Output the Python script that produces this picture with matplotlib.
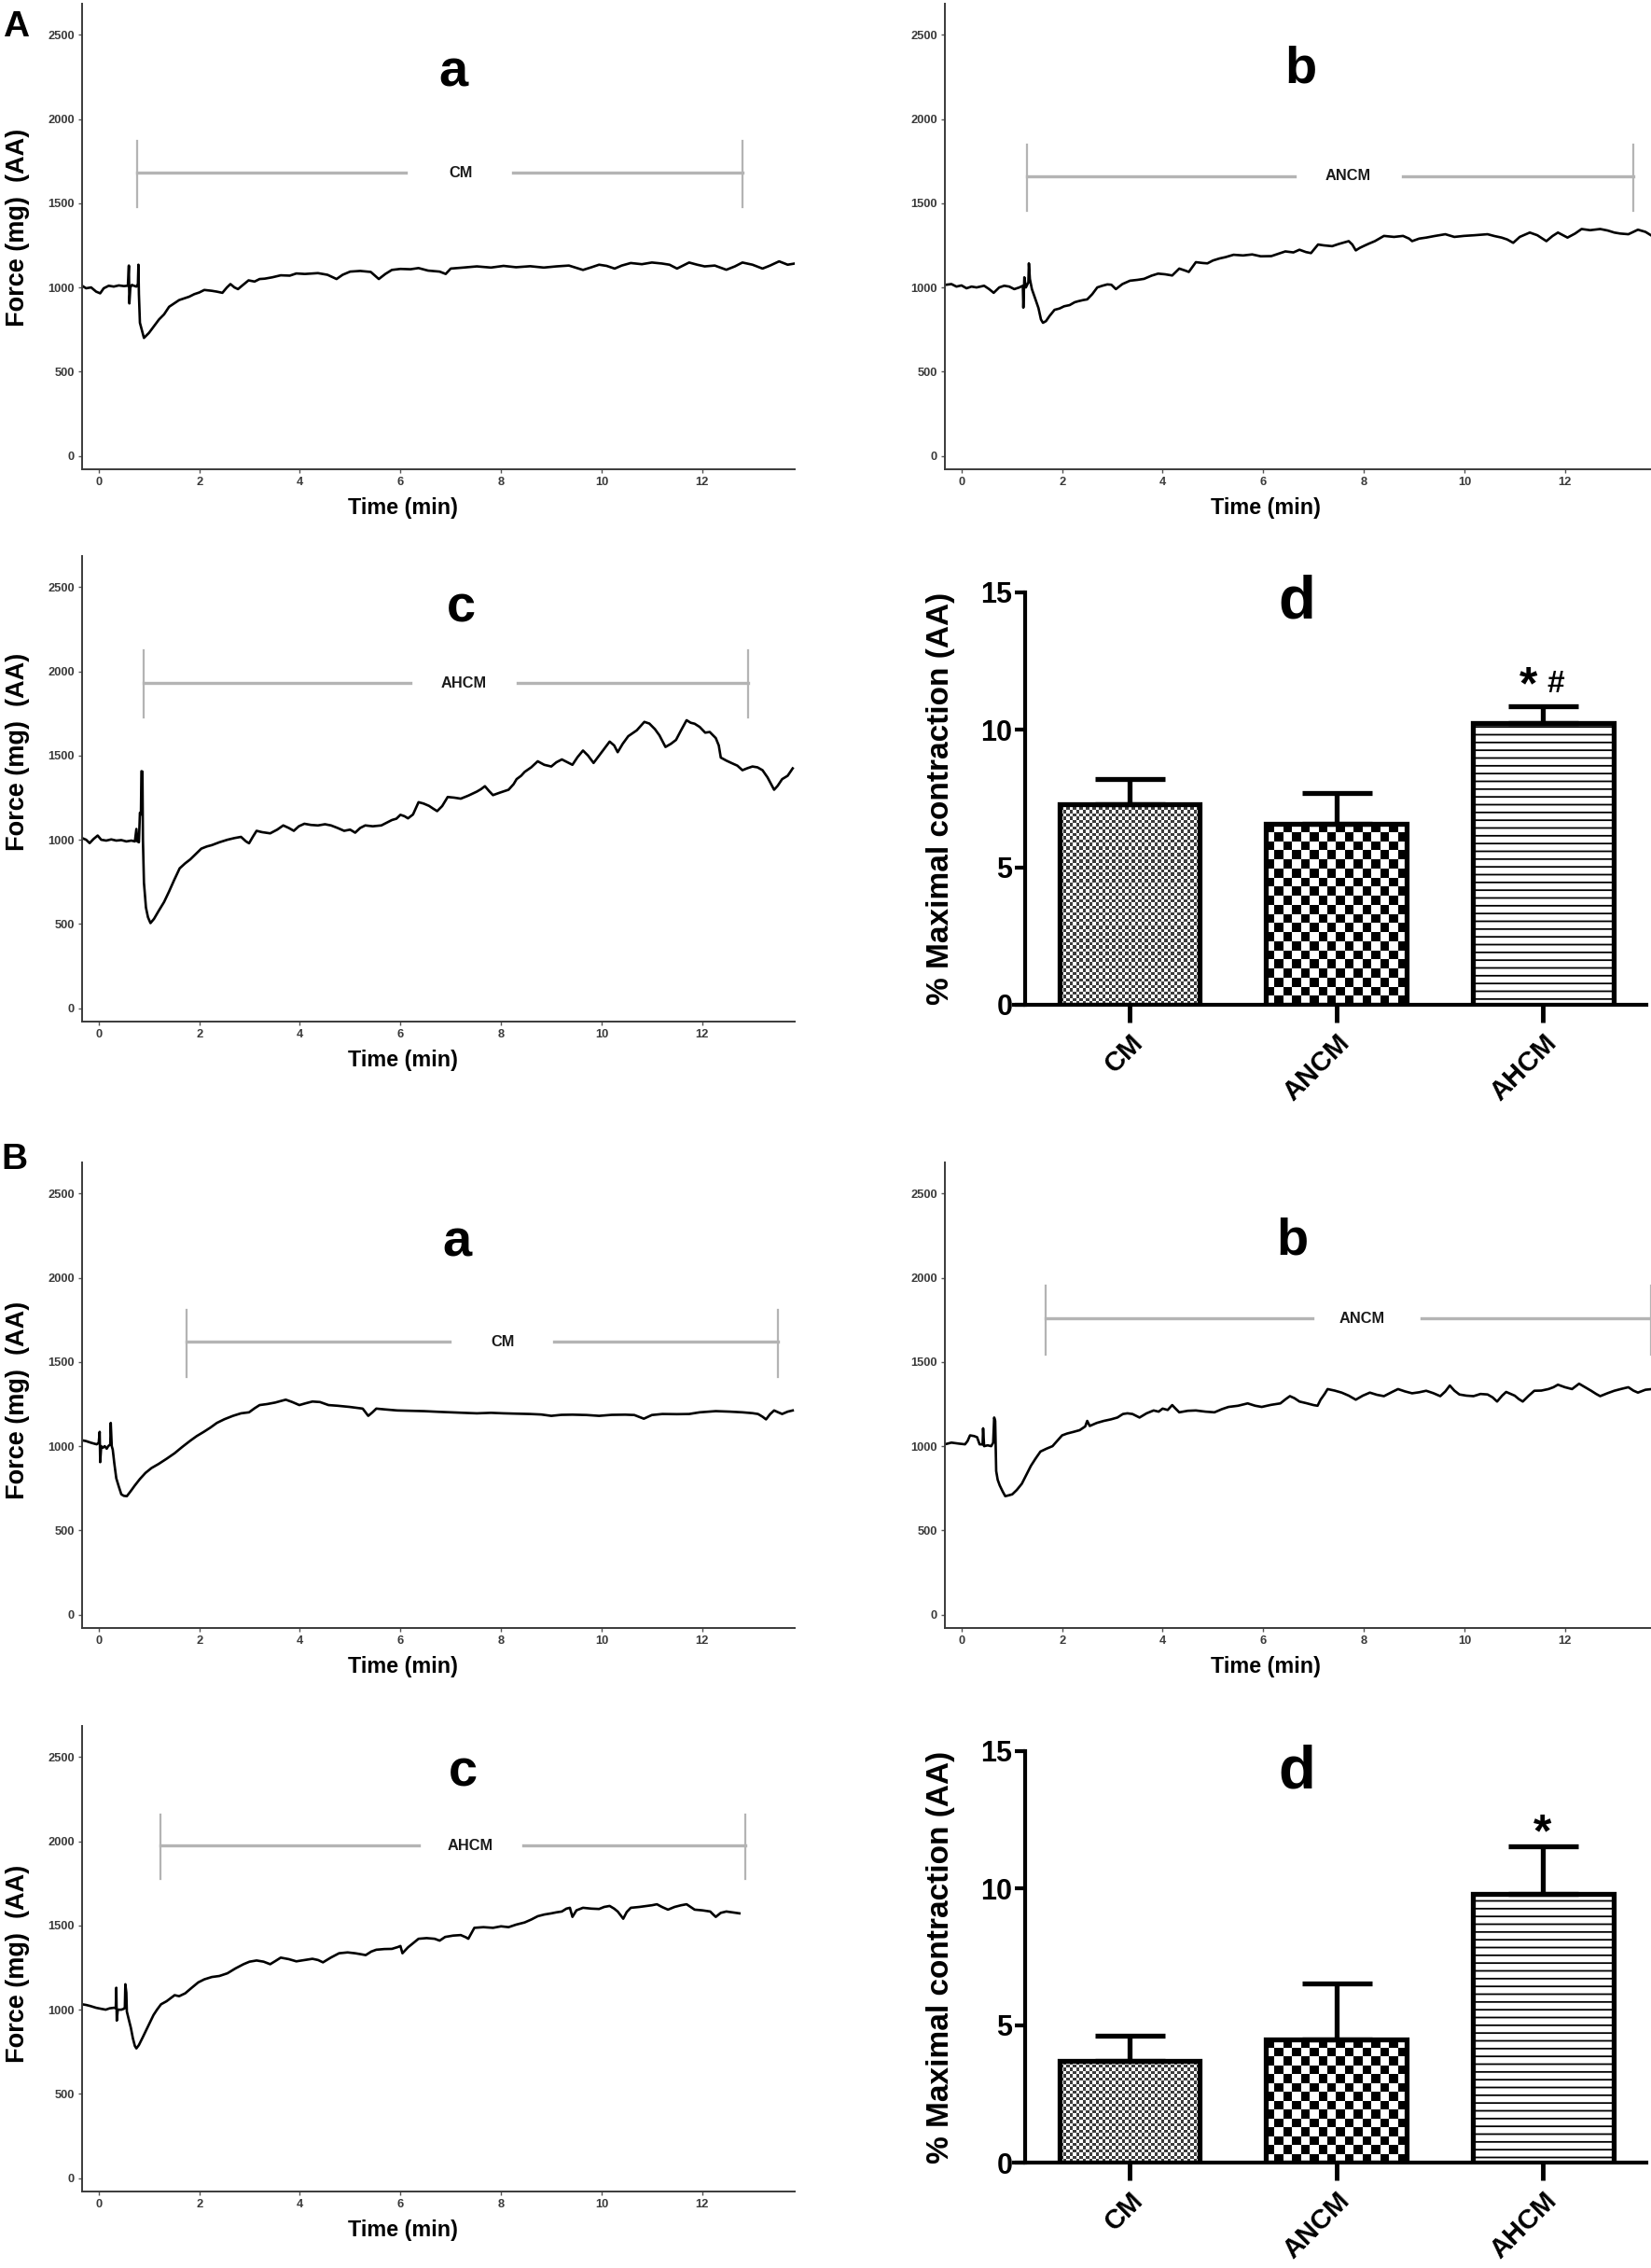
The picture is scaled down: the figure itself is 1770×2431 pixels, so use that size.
import numpy as np
import matplotlib
matplotlib.use("Agg")
import matplotlib.pyplot as plt
from matplotlib import font_manager
from matplotlib.colors import ListedColormap

# ---- values ----
time_ticks = [0, 2, 4, 6, 8, 10, 12]
force_ticks = [0, 500, 1000, 1500, 2000, 2500]

# (time min, force mg) for each isometric trace
aa_pts = [(-0.33, 1010), (-0.25, 995), (-0.15, 1000), (-0.05, 975), (0.03, 965), (0.1, 995),
          (0.2, 1010), (0.3, 1005), (0.4, 1012), (0.5, 1008), (0.58, 1010), (0.6, 1130),
          (0.61, 905), (0.63, 1000), (0.66, 1015), (0.7, 1010), (0.75, 1005), (0.78, 1020),
          (0.79, 1135), (0.8, 960), (0.82, 790), (0.86, 745), (0.9, 700), (0.95, 715),
          (1.0, 730), (1.1, 770), (1.2, 810), (1.3, 840), (1.4, 885), (1.5, 905), (1.6, 925),
          (1.7, 935), (1.8, 945), (1.9, 960), (2.0, 970), (2.1, 985), (2.25, 980), (2.35, 975),
          (2.46, 968), (2.55, 1000), (2.62, 1020), (2.7, 1000), (2.77, 990), (2.85, 1010),
          (2.98, 1042), (3.1, 1035), (3.2, 1050), (3.3, 1052), (3.45, 1060), (3.62, 1072),
          (3.8, 1070), (3.93, 1083), (4.1, 1080), (4.36, 1085), (4.55, 1075), (4.73, 1050),
          (4.85, 1075), (5.0, 1094), (5.2, 1098), (5.41, 1092), (5.57, 1050), (5.7, 1080),
          (5.83, 1104), (6.0, 1110), (6.2, 1108), (6.36, 1115), (6.55, 1100), (6.78, 1094),
          (6.9, 1080), (7.0, 1112), (7.25, 1118), (7.52, 1125), (7.8, 1118), (8.05, 1128),
          (8.3, 1120), (8.58, 1126), (8.85, 1118), (9.1, 1125), (9.35, 1130), (9.63, 1104),
          (9.8, 1120), (9.95, 1135), (10.1, 1128), (10.26, 1112), (10.4, 1130), (10.58, 1145),
          (10.8, 1138), (11.0, 1148), (11.2, 1142), (11.35, 1135), (11.5, 1112), (11.62, 1130),
          (11.74, 1148), (11.9, 1135), (12.05, 1125), (12.25, 1130), (12.48, 1105), (12.65, 1125),
          (12.8, 1148), (13.0, 1135), (13.2, 1112), (13.35, 1130), (13.53, 1155), (13.7, 1135),
          (13.84, 1142)]

ab_pts = [(-0.33, 1015), (-0.2, 1020), (-0.1, 1005), (0.0, 1012), (0.1, 995), (0.2, 1005),
          (0.3, 1000), (0.45, 1010), (0.55, 990), (0.64, 968), (0.75, 1000), (0.85, 1010),
          (0.95, 1005), (1.05, 990), (1.15, 1000), (1.22, 1010), (1.23, 880), (1.25, 1060),
          (1.28, 1000), (1.33, 1030), (1.34, 1143), (1.36, 1050), (1.4, 990), (1.47, 930),
          (1.53, 878), (1.58, 810), (1.62, 790), (1.68, 800), (1.75, 830), (1.85, 867),
          (1.95, 875), (2.04, 888), (2.15, 895), (2.25, 912), (2.32, 918), (2.42, 925),
          (2.5, 929), (2.6, 960), (2.7, 1000), (2.8, 1010), (2.9, 1018), (2.98, 1016),
          (3.07, 990), (3.2, 1020), (3.35, 1040), (3.5, 1045), (3.63, 1051), (3.78, 1070),
          (3.91, 1082), (4.05, 1078), (4.19, 1071), (4.33, 1112), (4.45, 1100), (4.52, 1092),
          (4.66, 1150), (4.8, 1145), (4.89, 1143), (5.0, 1160), (5.13, 1172), (5.25, 1180),
          (5.41, 1194), (5.6, 1190), (5.78, 1196), (5.95, 1185), (6.16, 1186), (6.3, 1200),
          (6.44, 1214), (6.6, 1208), (6.72, 1224), (6.85, 1210), (6.95, 1204), (7.09, 1255),
          (7.2, 1250), (7.37, 1245), (7.5, 1258), (7.7, 1275), (7.77, 1255), (7.84, 1220),
          (7.92, 1235), (7.99, 1245), (8.1, 1260), (8.22, 1275), (8.4, 1306), (8.6, 1300),
          (8.78, 1306), (8.9, 1290), (8.96, 1275), (9.1, 1290), (9.24, 1296), (9.4, 1305),
          (9.62, 1316), (9.8, 1300), (9.99, 1306), (10.2, 1310), (10.46, 1316), (10.6, 1305),
          (10.74, 1296), (10.85, 1285), (10.97, 1265), (11.1, 1300), (11.3, 1326), (11.45, 1310),
          (11.63, 1275), (11.75, 1305), (11.86, 1326), (12.05, 1296), (12.2, 1320), (12.33, 1347),
          (12.5, 1340), (12.7, 1347), (12.85, 1338), (12.98, 1326), (13.1, 1320), (13.26, 1316),
          (13.36, 1330), (13.45, 1343), (13.6, 1330), (13.73, 1306), (13.84, 1300)]

ac_pts = [(-0.33, 1010), (-0.25, 1000), (-0.18, 980), (-0.1, 1005), (-0.02, 1025), (0.05, 1000),
          (0.15, 995), (0.25, 1002), (0.35, 995), (0.45, 998), (0.55, 990), (0.65, 995),
          (0.72, 990), (0.75, 1064), (0.77, 990), (0.8, 985), (0.82, 1160), (0.84, 1150),
          (0.85, 1407), (0.87, 1405), (0.88, 1000), (0.9, 745), (0.94, 597), (0.98, 540),
          (1.03, 505), (1.1, 530), (1.19, 576), (1.3, 630), (1.4, 693), (1.5, 760), (1.61, 830),
          (1.72, 860), (1.82, 883), (1.93, 915), (2.04, 947), (2.15, 960), (2.25, 968),
          (2.4, 985), (2.56, 1000), (2.7, 1010), (2.83, 1017), (2.93, 990), (2.99, 979),
          (3.07, 1020), (3.14, 1053), (3.25, 1045), (3.41, 1038), (3.55, 1060), (3.67, 1085),
          (3.78, 1070), (3.88, 1053), (3.98, 1080), (4.09, 1095), (4.22, 1088), (4.36, 1085),
          (4.5, 1092), (4.62, 1085), (4.75, 1070), (4.88, 1053), (5.0, 1060), (5.1, 1042),
          (5.2, 1070), (5.3, 1085), (5.45, 1080), (5.62, 1085), (5.72, 1100), (5.83, 1117),
          (5.92, 1125), (6.0, 1148), (6.08, 1140), (6.15, 1127), (6.25, 1150), (6.36, 1223),
          (6.46, 1215), (6.57, 1201), (6.65, 1185), (6.73, 1170), (6.83, 1200), (6.94, 1254),
          (7.07, 1250), (7.2, 1244), (7.35, 1262), (7.52, 1286), (7.6, 1300), (7.68, 1318),
          (7.76, 1290), (7.84, 1265), (7.98, 1280), (8.15, 1297), (8.25, 1330), (8.31, 1360),
          (8.4, 1380), (8.47, 1403), (8.6, 1430), (8.73, 1466), (8.86, 1445), (9.0, 1435),
          (9.1, 1460), (9.21, 1477), (9.32, 1460), (9.42, 1445), (9.52, 1490), (9.63, 1530),
          (9.73, 1500), (9.84, 1456), (10.0, 1520), (10.16, 1583), (10.25, 1560), (10.32, 1520),
          (10.42, 1570), (10.53, 1615), (10.7, 1650), (10.85, 1700), (10.95, 1690), (11.06, 1657),
          (11.15, 1620), (11.27, 1551), (11.38, 1570), (11.48, 1593), (11.58, 1650), (11.69, 1710),
          (11.77, 1695), (11.85, 1689), (11.95, 1670), (12.06, 1636), (12.15, 1640), (12.27, 1604),
          (12.33, 1560), (12.37, 1488), (12.48, 1470), (12.58, 1456), (12.7, 1440), (12.8, 1413),
          (12.9, 1425), (13.0, 1435), (13.1, 1430), (13.2, 1413), (13.3, 1370), (13.43, 1297),
          (13.5, 1320), (13.59, 1360), (13.7, 1380), (13.8, 1424)]

ba_pts = [(-0.33, 1035), (-0.25, 1030), (-0.15, 1020), (-0.04, 1011), (0.0, 1020), (0.02, 1085),
          (0.03, 905), (0.05, 1000), (0.08, 990), (0.12, 1000), (0.16, 985), (0.19, 1000),
          (0.23, 1010), (0.24, 1138), (0.26, 1000), (0.28, 979), (0.31, 900), (0.35, 809),
          (0.4, 760), (0.45, 714), (0.5, 705), (0.56, 703), (0.63, 730), (0.72, 767), (0.82, 805),
          (0.93, 841), (1.05, 870), (1.19, 894), (1.35, 925), (1.51, 958), (1.66, 995),
          (1.82, 1032), (1.95, 1060), (2.09, 1085), (2.22, 1110), (2.35, 1138), (2.5, 1160),
          (2.67, 1180), (2.83, 1195), (2.99, 1201), (3.1, 1225), (3.2, 1244), (3.35, 1250),
          (3.51, 1259), (3.62, 1268), (3.72, 1276), (3.85, 1262), (3.99, 1244), (4.12, 1255),
          (4.25, 1265), (4.4, 1262), (4.57, 1244), (4.75, 1240), (4.99, 1233), (5.12, 1228),
          (5.25, 1223), (5.36, 1180), (5.44, 1200), (5.52, 1223), (5.7, 1218), (5.94, 1212),
          (6.2, 1210), (6.47, 1208), (6.75, 1204), (7.0, 1201), (7.25, 1198), (7.52, 1195),
          (7.8, 1198), (8.05, 1195), (8.3, 1193), (8.58, 1191), (8.8, 1188), (9.0, 1180),
          (9.2, 1186), (9.42, 1187), (9.7, 1185), (9.95, 1180), (10.2, 1186), (10.47, 1187),
          (10.65, 1185), (10.84, 1163), (11.0, 1185), (11.21, 1191), (11.5, 1190), (11.74, 1191),
          (11.95, 1201), (12.27, 1208), (12.55, 1205), (12.8, 1201), (13.0, 1196), (13.11, 1191),
          (13.2, 1175), (13.27, 1159), (13.35, 1190), (13.43, 1212), (13.52, 1200), (13.59, 1191),
          (13.7, 1205), (13.8, 1212)]

bb_pts = [(-0.33, 1011), (-0.2, 1021), (-0.05, 1015), (0.07, 1011), (0.12, 1030), (0.17, 1064),
          (0.25, 1060), (0.31, 1053), (0.36, 1011), (0.42, 1010), (0.43, 1106), (0.45, 1000),
          (0.52, 1005), (0.59, 1000), (0.63, 1020), (0.65, 1170), (0.67, 1150), (0.69, 852),
          (0.72, 800), (0.76, 767), (0.82, 730), (0.87, 703), (0.94, 708), (1.01, 714),
          (1.1, 740), (1.2, 777), (1.29, 830), (1.38, 883), (1.47, 925), (1.57, 968),
          (1.69, 985), (1.81, 1000), (1.9, 1030), (2.0, 1064), (2.1, 1075), (2.23, 1085),
          (2.35, 1095), (2.46, 1117), (2.5, 1150), (2.55, 1120), (2.69, 1138), (2.83, 1150),
          (2.97, 1159), (3.1, 1170), (3.21, 1191), (3.3, 1195), (3.4, 1191), (3.54, 1170),
          (3.68, 1195), (3.82, 1212), (3.92, 1205), (4.0, 1223), (4.1, 1215), (4.19, 1244),
          (4.25, 1225), (4.33, 1201), (4.5, 1210), (4.66, 1212), (4.85, 1205), (5.03, 1201),
          (5.18, 1220), (5.31, 1233), (5.5, 1240), (5.69, 1254), (5.84, 1240), (5.97, 1233),
          (6.15, 1245), (6.34, 1254), (6.45, 1280), (6.53, 1297), (6.62, 1285), (6.72, 1265),
          (6.86, 1255), (7.0, 1244), (7.08, 1240), (7.14, 1276), (7.22, 1310), (7.28, 1339),
          (7.42, 1330), (7.56, 1318), (7.7, 1300), (7.84, 1276), (7.98, 1300), (8.12, 1318),
          (8.26, 1305), (8.4, 1297), (8.55, 1320), (8.68, 1339), (8.82, 1325), (8.96, 1314),
          (9.1, 1320), (9.24, 1329), (9.38, 1315), (9.52, 1297), (9.62, 1325), (9.71, 1360),
          (9.8, 1330), (9.9, 1307), (10.04, 1300), (10.18, 1297), (10.32, 1310), (10.46, 1307),
          (10.56, 1290), (10.65, 1265), (10.75, 1300), (10.83, 1322), (11.0, 1300), (11.08, 1280),
          (11.16, 1265), (11.28, 1300), (11.39, 1329), (11.53, 1330), (11.67, 1339), (11.77, 1350),
          (11.86, 1365), (12.0, 1350), (12.14, 1339), (12.21, 1355), (12.28, 1371), (12.4, 1350),
          (12.52, 1329), (12.62, 1310), (12.7, 1297), (12.85, 1315), (12.98, 1329), (13.12, 1340),
          (13.26, 1350), (13.36, 1330), (13.45, 1318), (13.6, 1335), (13.73, 1339), (13.84, 1330)]

bc_pts = [(-0.33, 1032), (-0.25, 1028), (-0.17, 1022), (-0.05, 1011), (0.05, 1005), (0.14, 1000),
          (0.22, 1008), (0.3, 1011), (0.34, 1010), (0.35, 1130), (0.36, 935), (0.38, 1000),
          (0.45, 1000), (0.5, 1005), (0.52, 1010), (0.53, 1151), (0.55, 1100), (0.56, 989),
          (0.6, 940), (0.64, 892), (0.68, 830), (0.72, 784), (0.75, 770), (0.8, 790), (0.88, 838),
          (0.98, 900), (1.09, 968), (1.16, 1000), (1.24, 1032), (1.35, 1050), (1.51, 1086),
          (1.6, 1080), (1.72, 1097), (1.85, 1130), (1.98, 1162), (2.1, 1180), (2.25, 1194),
          (2.4, 1200), (2.56, 1216), (2.72, 1245), (2.88, 1270), (3.0, 1285), (3.14, 1292),
          (3.28, 1285), (3.41, 1270), (3.52, 1290), (3.62, 1309), (3.78, 1300), (3.93, 1287),
          (4.1, 1295), (4.25, 1302), (4.36, 1295), (4.46, 1281), (4.62, 1310), (4.78, 1335),
          (4.95, 1340), (5.1, 1335), (5.2, 1330), (5.31, 1324), (5.42, 1345), (5.52, 1356),
          (5.68, 1360), (5.83, 1361), (5.95, 1372), (6.0, 1378), (6.04, 1335), (6.15, 1370),
          (6.36, 1421), (6.52, 1425), (6.68, 1421), (6.78, 1410), (6.89, 1432), (7.05, 1440),
          (7.2, 1443), (7.3, 1430), (7.35, 1421), (7.47, 1486), (7.65, 1490), (7.84, 1486),
          (8.0, 1495), (8.15, 1490), (8.3, 1505), (8.47, 1518), (8.6, 1535), (8.73, 1555),
          (8.86, 1565), (9.0, 1572), (9.1, 1578), (9.21, 1583), (9.3, 1600), (9.37, 1605),
          (9.42, 1551), (9.5, 1590), (9.63, 1605), (9.8, 1600), (9.95, 1598), (10.05, 1610),
          (10.16, 1616), (10.25, 1600), (10.32, 1583), (10.38, 1560), (10.43, 1540), (10.5, 1580),
          (10.58, 1605), (10.75, 1610), (10.9, 1616), (11.0, 1620), (11.1, 1626), (11.2, 1610),
          (11.32, 1594), (11.45, 1610), (11.58, 1620), (11.69, 1626), (11.77, 1610), (11.85, 1594),
          (12.0, 1590), (12.16, 1583), (12.22, 1565), (12.27, 1551), (12.37, 1575), (12.48, 1583),
          (12.6, 1578), (12.74, 1572)]

# treatment period: start, end (min), bar level, tick bottom, tick top (mg), gap around name (min)
aa_treat = (0.77, 12.8, 1680, 1476, 1870, 6.1, 8.24)
ab_treat = (1.31, 13.36, 1660, 1456, 1850, 6.62, 8.77)
ac_treat = (0.9, 12.92, 1931, 1725, 2125, 6.2, 8.34)
ba_treat = (1.74, 13.51, 1620, 1411, 1810, 6.97, 9.05)
bb_treat = (1.67, 13.71, 1759, 1546, 1954, 6.98, 9.15)
bc_treat = (1.22, 12.85, 1975, 1774, 2158, 6.36, 8.45)

groups = ["CM", "ANCM", "AHCM"]
a_mean = [7.3, 6.6, 10.25]
a_sem = [0.9, 1.1, 0.6]
b_mean = [3.7, 4.5, 9.8]
b_sem = [0.93, 2.03, 1.73]

# ---- figure ----
W, H = 1770, 2431
plt.rcParams["hatch.linewidth"] = 1.3
fig = plt.figure(figsize=(W / 100, H / 100), dpi=100)

installed = {f.name for f in font_manager.fontManager.ttflist}
NARROW = "Liberation Sans Narrow" if "Liberation Sans Narrow" in installed else "Liberation Sans"
k = 1.0 if NARROW == "Liberation Sans Narrow" else 0.84
WIDE = "Liberation Sans"
GREY = "#b4b4b4"


def px_box(x0, y0, x1, y1):
    return [x0 / W, 1 - y1 / H, (x1 - x0) / W, (y1 - y0) / H]


def trace_panel(rect, pts, treat, name, name_x, letter, letter_xy, ylab_y):
    ax = fig.add_axes(px_box(*rect))
    t, f = zip(*pts)
    ax.plot(t, f, color="black", lw=1.9)

    start, end, level, lo, hi, g0, g1 = treat
    ax.plot([start, start], [lo, hi], color=GREY, lw=1.6)
    ax.plot([end, end], [lo, hi], color=GREY, lw=1.6)
    ax.plot([start, g0], [level, level], color=GREY, lw=2.4)
    ax.plot([g1, end], [level, level], color=GREY, lw=2.4)
    ax.text(name_x, level, name, ha="center", va="center", fontsize=14 * k,
            fontweight="bold", family=NARROW, color="#1a1a1a")
    ax.text(letter_xy[0], letter_xy[1], letter, ha="center", va="baseline",
            fontsize=48 * k, fontweight="bold", family=NARROW)

    ax.set_xlim(-0.33, 13.84)
    ax.set_ylim(-80, 2685)
    ax.set_xticks(time_ticks, labels=[str(v) for v in time_ticks],
                  family=NARROW, fontweight="bold")
    ax.set_yticks(force_ticks, labels=[str(v) for v in force_ticks],
                  family=NARROW, fontweight="bold")
    for side in ("top", "right"):
        ax.spines[side].set_visible(False)
    for side in ("left", "bottom"):
        ax.spines[side].set_color("#3a3a3a")
        ax.spines[side].set_linewidth(1.4)
    ax.tick_params(direction="out", length=3, width=1, color="#555555",
                   labelcolor="#3a3a3a", labelsize=11 * k, pad=3)

    ax.set_xlabel("Time (min)", fontsize=20 * k, fontweight="bold", family=NARROW, va="center")
    ax.xaxis.set_label_coords(0.45, -0.084)
    if ylab_y is not None:
        ax.set_ylabel("Force (mg)  (AA)", fontsize=19.5, fontweight="bold", family=WIDE, va="center")
        ax.yaxis.set_label_coords(-0.09, ylab_y)
    return ax


def checker(ax, bar, cell_px, dark):
    x0, w, h = bar.get_x(), bar.get_width(), bar.get_height()
    (px0, py0), (px1, py1) = ax.transData.transform([(x0, 0), (x0 + w, h)])
    ncol = max(1, int(round(abs(px1 - px0) / cell_px)))
    nrow = max(1, int(round(abs(py1 - py0) / cell_px)))
    board = np.indices((nrow, ncol)).sum(axis=0) % 2
    ax.imshow(board, extent=(x0, x0 + w, 0, h), origin="lower", aspect="auto",
              cmap=ListedColormap(["white", dark]), vmin=0, vmax=1,
              interpolation="nearest", zorder=1)


def bar_panel(rect, means, sems, marks, d_y):
    ax = fig.add_axes(px_box(*rect))
    x = np.arange(len(groups))
    ax.set_xlim(-0.56, 2.5)
    ax.set_ylim(0, 15)
    bars = ax.bar(x, means, width=0.68, facecolor="none", edgecolor="black",
                  linewidth=3.8, zorder=3)
    bars[2].set_facecolor("white")
    bars[2].set_hatch("--")
    checker(ax, bars[0], 3.5, "#3c3c3c")
    checker(ax, bars[1], 9.5, "black")
    ax.errorbar(x, means, yerr=[np.zeros(len(x)), sems], fmt="none", ecolor="black",
                elinewidth=3.8, capsize=27, capthick=3.8, zorder=4)
    ax.set_xlim(-0.56, 2.5)
    ax.set_ylim(0, 15)

    for side in ("top", "right"):
        ax.spines[side].set_visible(False)
    ax.spines["left"].set_position(("data", -0.505))
    for side in ("left", "bottom"):
        ax.spines[side].set_linewidth(3.0)
    ax.set_yticks([0, 5, 10, 15], labels=["0", "5", "10", "15"],
                  fontsize=22, fontweight="bold", family=WIDE)
    ax.set_xticks(x, labels=groups, fontsize=21, fontweight="bold", family=WIDE,
                  rotation=45, ha="right", va="top", rotation_mode="anchor")
    ax.tick_params(axis="y", direction="out", length=8, width=3, pad=2)
    ax.tick_params(axis="x", direction="out", length=14, width=3.5, pad=5)

    ax.set_ylabel("% Maximal contraction (AA)", fontsize=24, fontweight="bold",
                  family=WIDE, va="center")
    ax.yaxis.set_label_coords(-0.1165, 0.5)
    ax.text(0.81, d_y, "d", ha="center", va="baseline", fontsize=47,
            fontweight="bold", family=WIDE)
    for txt, mx, my, size in marks:
        ax.text(mx, my, txt, ha="center", va="center", fontsize=size,
                fontweight="bold", family=WIDE)
    return ax


# panel A
trace_panel((88, 4, 852, 503), aa_pts, aa_treat, "CM", 7.2, "a", (7.05, 2196), 0.52)
trace_panel((1013, 4, 1777, 503), ab_pts, ab_treat, "ANCM", 7.68, "b", (6.75, 2218), None)
trace_panel((88, 596, 852, 1095), ac_pts, ac_treat, "AHCM", 7.26, "c", (7.2, 2294), 0.58)
bar_panel((1087, 635, 1765, 1077), a_mean, a_sem,
          [("*", 1.93, 11.55, 36), ("#", 2.06, 11.65, 24)], 14.05)

# panel B
trace_panel((88, 1246, 852, 1745), ba_pts, ba_treat, "CM", 8.03, "a", (7.12, 2127), 0.49)
trace_panel((1013, 1246, 1777, 1745), bb_pts, bb_treat, "ANCM", 7.96, "b", (6.58, 2139), None)
trace_panel((88, 1850, 852, 2349), bc_pts, bc_treat, "AHCM", 7.39, "c", (7.24, 2328), 0.49)
bar_panel((1087, 1877, 1765, 2318), b_mean, b_sem, [("*", 1.995, 11.96, 36)], 13.64)

panel_size = 32 if NARROW != WIDE else 28
fig.text(3 / W, 1 - 39 / H, "A", fontsize=panel_size, fontweight="bold", family=NARROW, va="baseline")
fig.text(1 / W, 1 - 1253 / H, "B", fontsize=panel_size, fontweight="bold", family=NARROW, va="baseline")

fig.savefig("out.png", dpi=100)
